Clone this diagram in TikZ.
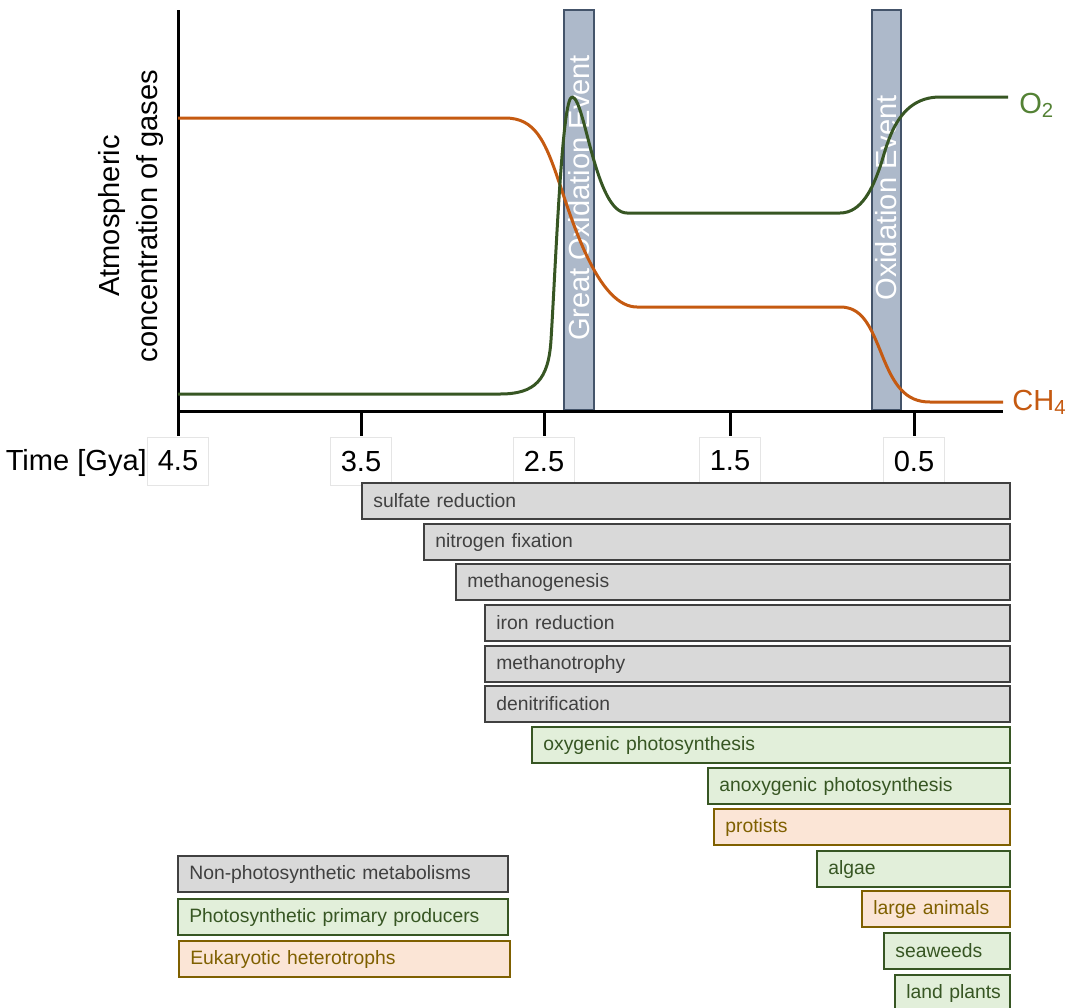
\documentclass[tikz,border=0pt]{standalone}
\usepackage{fontspec}
\setmainfont{Liberation Sans}
\usetikzlibrary{positioning}

\definecolor{otwo}{HTML}{375623}
\definecolor{otwolab}{HTML}{548235}
\definecolor{chfour}{HTML}{C55A11}
\definecolor{grayline}{HTML}{404040}
\definecolor{grayfill}{HTML}{D9D9D9}
\definecolor{greenfill}{HTML}{E2EFDA}
\definecolor{eukline}{HTML}{7F6000}
\definecolor{eukfill}{HTML}{FBE5D6}
\definecolor{bandline}{HTML}{44546A}
\definecolor{bandfill}{HTML}{ADB9CA}

% name, left, right, top, style, text
\newcommand{\proc}[6]{%
  \pgfmathsetmacro{\procw}{(#3-#2)*0.75}%
  \node[#5, text width=\procw pt] (#1) at (#2,#4) {\hspace*{8.5pt}#6};}

\begin{document}
\begin{tikzpicture}[x=0.75pt,y=-0.75pt,
    big/.style={font=\fontsize{21.8}{29}\selectfont},
    procbox/.style={draw, line width=1.5pt, anchor=north west, minimum height=27pt,
      inner xsep=0pt, inner ysep=0pt, font=\fontsize{14.5}{17}\selectfont},
    nonphoto/.style={procbox, draw=grayline, fill=grayfill, text=grayline},
    photo/.style={procbox, draw=otwo, fill=greenfill, text=otwo},
    euk/.style={procbox, draw=eukline, fill=eukfill, text=eukline},
    band/.style={draw=bandline, fill=bandfill, line width=1pt},
    axis/.style={line width=2.25pt},
    ticklab/.style={big, draw=black!10, fill=white, line width=0.6pt,
      minimum width=45.75pt, minimum height=36pt, inner sep=0pt},
    curve/.style={line width=2.25pt, line join=round}]
  \useasboundingbox (0,0) rectangle (1071,1007);

  \draw[band] (564,10) rectangle (594,410);
  \draw[band] (872,10) rectangle (901,410);
  \node[big, rotate=90, text=white] (goelab) at (579,198) {Great Oxidation Event};
  \node[big, rotate=90, text=white] (oelab) at (886.5,198) {Oxidation Event};

  \draw[axis] (178,10) -- (178,411) -- (1003,411);
  \draw[axis] (178,411) -- (178,436);
  \draw[axis] (361,411) -- (361,436);
  \draw[axis] (544,411) -- (544,436);
  \draw[axis] (730,411) -- (730,436);
  \draw[axis] (914,411) -- (914,436);

  \node[ticklab] (t45) at (178,461) {4.5};
  \node[ticklab] (t35) at (361,461) {3.5};
  \node[ticklab] (t25) at (544,461) {2.5};
  \node[ticklab] (t15) at (730,461) {1.5};
  \node[ticklab] (t05) at (914,461) {0.5};
  \node[big, inner sep=0pt, base left=0pt of t45] (time) {Time [Gya]};

  \node[big, rotate=90, align=center] (ylab) at (131,216)
    {Atmospheric\\concentration of gases};

  \draw[curve, chfour] (178,118) -- (505,118)
    .. controls (535,118) and (545,140) .. (560,185)
    .. controls (575,230) and (600,307) .. (637,307) -- (840,307)
    .. controls (862,307) and (870,325) .. (882,355)
    .. controls (894,385) and (905,402) .. (930,402) -- (1003,402);
  \draw[curve, otwo] (178,394) -- (500,394)
    .. controls (535,394) and (548.5,380) .. (551,340)
    .. controls (556,260) and (562,97) .. (572,97)
    .. controls (585,97) and (595,213) .. (627,213) -- (840,213)
    .. controls (862,213) and (873,187) .. (880,167)
    .. controls (887,147) and (895,97) .. (940,97) -- (1008,97);
  \node[big, text=otwolab, anchor=base west, inner sep=0pt] (otwolabel) at (1019,113)
    {O\textsubscript{2}};
  \node[big, text=chfour, anchor=base west, inner sep=0pt] (chfourlabel) at (1012,410)
    {CH\textsubscript{4}};

  \proc{sulf}{361}{1009}{482}{nonphoto}{sulfate reduction}
  \proc{nfix}{423}{1009}{523}{nonphoto}{nitrogen fixation}
  \proc{mgen}{455}{1009}{563}{nonphoto}{methanogenesis}
  \proc{fered}{484}{1009}{604}{nonphoto}{iron reduction}
  \proc{mtro}{484}{1009}{645}{nonphoto}{methanotrophy}
  \proc{deni}{484}{1009}{685}{nonphoto}{denitrification}
  \proc{oxyp}{531}{1009}{726}{photo}{oxygenic photosynthesis}
  \proc{anox}{707}{1009}{767}{photo}{anoxygenic photosynthesis}
  \proc{prot}{713}{1009}{808}{euk}{protists}
  \proc{alga}{816}{1009}{850}{photo}{algae}
  \proc{lani}{861}{1009}{890}{euk}{large animals}
  \proc{seaw}{883}{1009}{932}{photo}{seaweeds}
  \proc{lpla}{894}{1009}{974}{photo}{land plants}

  \proc{legnon}{177}{507}{855}{nonphoto}{Non-photosynthetic metabolisms}
  \proc{legphot}{177}{507}{898}{photo}{Photosynthetic primary producers}
  \proc{legeuk}{178}{509}{940}{euk}{Eukaryotic heterotrophs}
\end{tikzpicture}
\end{document}
